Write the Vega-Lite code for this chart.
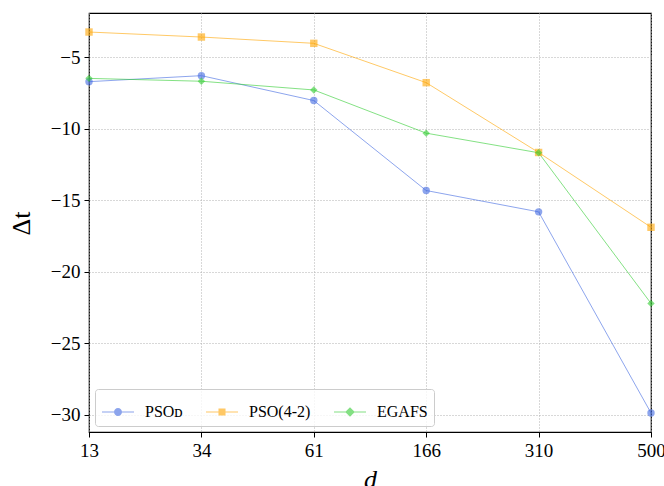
{
  "$schema": "https://vega.github.io/schema/vega-lite/v6.json",
  "autosize": "none",
  "width": 562,
  "height": 419,
  "padding": {"left": 89, "top": 13, "right": 13, "bottom": 54},
  "background": "white",
  "config": {
    "font": "Liberation Serif",
    "view": {"stroke": "black", "strokeWidth": 1.2},
    "axis": {
      "labelFont": "Liberation Serif",
      "labelFontSize": 19,
      "labelColor": "black",
      "tickColor": "black",
      "tickSize": 5,
      "domain": false,
      "gridColor": "#b0b0b0",
      "gridDash": [1, 2],
      "gridWidth": 1,
      "titleFont": "Liberation Serif",
      "titleFontWeight": "normal",
      "titleColor": "black"
    }
  },
  "data": {
    "values": [
      {"d": 13, "series": "PSO_D", "dt": -6.70},
      {"d": 34, "series": "PSO_D", "dt": -6.28},
      {"d": 61, "series": "PSO_D", "dt": -8.02},
      {"d": 166, "series": "PSO_D", "dt": -14.31},
      {"d": 310, "series": "PSO_D", "dt": -15.80},
      {"d": 500, "series": "PSO_D", "dt": -29.86},
      {"d": 13, "series": "PSO(4-2)", "dt": -3.23},
      {"d": 34, "series": "PSO(4-2)", "dt": -3.58},
      {"d": 61, "series": "PSO(4-2)", "dt": -4.02},
      {"d": 166, "series": "PSO(4-2)", "dt": -6.77},
      {"d": 310, "series": "PSO(4-2)", "dt": -11.65},
      {"d": 500, "series": "PSO(4-2)", "dt": -16.88},
      {"d": 13, "series": "EGAFS", "dt": -6.47},
      {"d": 34, "series": "EGAFS", "dt": -6.67},
      {"d": 61, "series": "EGAFS", "dt": -7.28},
      {"d": 166, "series": "EGAFS", "dt": -10.30},
      {"d": 310, "series": "EGAFS", "dt": -11.67},
      {"d": 500, "series": "EGAFS", "dt": -22.2}
    ]
  },
  "encoding": {
    "x": {
      "field": "d",
      "type": "ordinal",
      "scale": {"type": "point", "padding": 0},
      "axis": {
        "title": "d",
        "titleFontSize": 26,
        "titleFontStyle": "italic",
        "titleBaseline": "alphabetic",
        "titleY": 55,
        "labelAngle": 0,
        "labelPadding": 4,
        "grid": true
      }
    },
    "y": {
      "field": "dt",
      "type": "quantitative",
      "scale": {"domain": [-31.19, -1.9], "nice": false, "zero": false},
      "axis": {
        "title": "Δt",
        "titleFontSize": 26,
        "titleX": -60,
        "titleY": 210,
        "titleBaseline": "alphabetic",
        "values": [-30, -25, -20, -15, -10, -5],
        "labelPadding": 4,
        "grid": true
      }
    }
  },
  "resolve": {"scale": {"color": "independent", "shape": "independent"}},
  "layer": [
    {
      "mark": {"type": "line", "strokeWidth": 1, "opacity": 0.6},
      "encoding": {
        "color": {
          "field": "series",
          "type": "nominal",
          "scale": {"domain": ["PSO_D", "PSO(4-2)", "EGAFS"], "range": ["#4169e1", "#ffa500", "#32cd32"]},
          "legend": null
        }
      }
    },
    {
      "mark": {"type": "point", "filled": true, "opacity": 0.6, "size": 55},
      "encoding": {
        "color": {
          "field": "series",
          "type": "nominal",
          "scale": {"domain": ["PSO_D", "PSO(4-2)", "EGAFS"], "range": ["#4169e1", "#ffa500", "#32cd32"]},
          "legend": null
        },
        "shape": {
          "field": "series",
          "type": "nominal",
          "scale": {"domain": ["PSO_D", "PSO(4-2)", "EGAFS"], "range": ["circle", "square", "diamond"]},
          "legend": null
        }
      }
    },
    {
      "transform": [{"filter": "datum.d < 0"}],
      "mark": {"type": "point", "filled": true, "opacity": 0.6},
      "encoding": {
        "color": {
          "field": "series",
          "type": "nominal",
          "scale": {"domain": ["PSO_D", "PSO(4-2)", "EGAFS"], "range": ["#4169e1", "#ffa500", "#32cd32"]},
          "legend": {
            "title": null,
            "orient": "bottom-left",
            "direction": "horizontal",
            "columns": 3,
            "offset": 6,
            "padding": 6,
            "fillColor": "rgba(255,255,255,0.8)",
            "strokeColor": "#cccccc",
            "cornerRadius": 3,
            "symbolSize": 1024,
            "symbolOpacity": 0.6,
            "labelFont": "Liberation Serif",
            "labelFontSize": 16,
            "labelColor": "black",
            "labelOffset": 10,
            "columnPadding": 20,
            "labelExpr": "datum.label == 'PSO_D' ? 'PSOᴅ' : datum.label"
          }
        },
        "shape": {
          "field": "series",
          "type": "nominal",
          "scale": {
            "domain": ["PSO_D", "PSO(4-2)", "EGAFS"],
            "range": [
              "M-1,-0.031H1V0.031H-1Z M0.25,0A0.25,0.25 0 1,1 -0.25,0A0.25,0.25 0 1,1 0.25,0Z",
              "M-1,-0.031H1V0.031H-1Z M-0.22,-0.22H0.22V0.22H-0.22Z",
              "M-1,-0.031H1V0.031H-1Z M0,-0.3L0.3,0L0,0.3L-0.3,0Z"
            ]
          },
          "legend": {
            "title": null,
            "orient": "bottom-left",
            "direction": "horizontal",
            "columns": 3,
            "offset": 6,
            "padding": 6,
            "fillColor": "rgba(255,255,255,0.8)",
            "strokeColor": "#cccccc",
            "cornerRadius": 3,
            "symbolSize": 1024,
            "symbolOpacity": 0.6,
            "labelFont": "Liberation Serif",
            "labelFontSize": 16,
            "labelColor": "black",
            "labelOffset": 10,
            "columnPadding": 20,
            "labelExpr": "datum.label == 'PSO_D' ? 'PSOᴅ' : datum.label"
          }
        }
      }
    }
  ]
}
